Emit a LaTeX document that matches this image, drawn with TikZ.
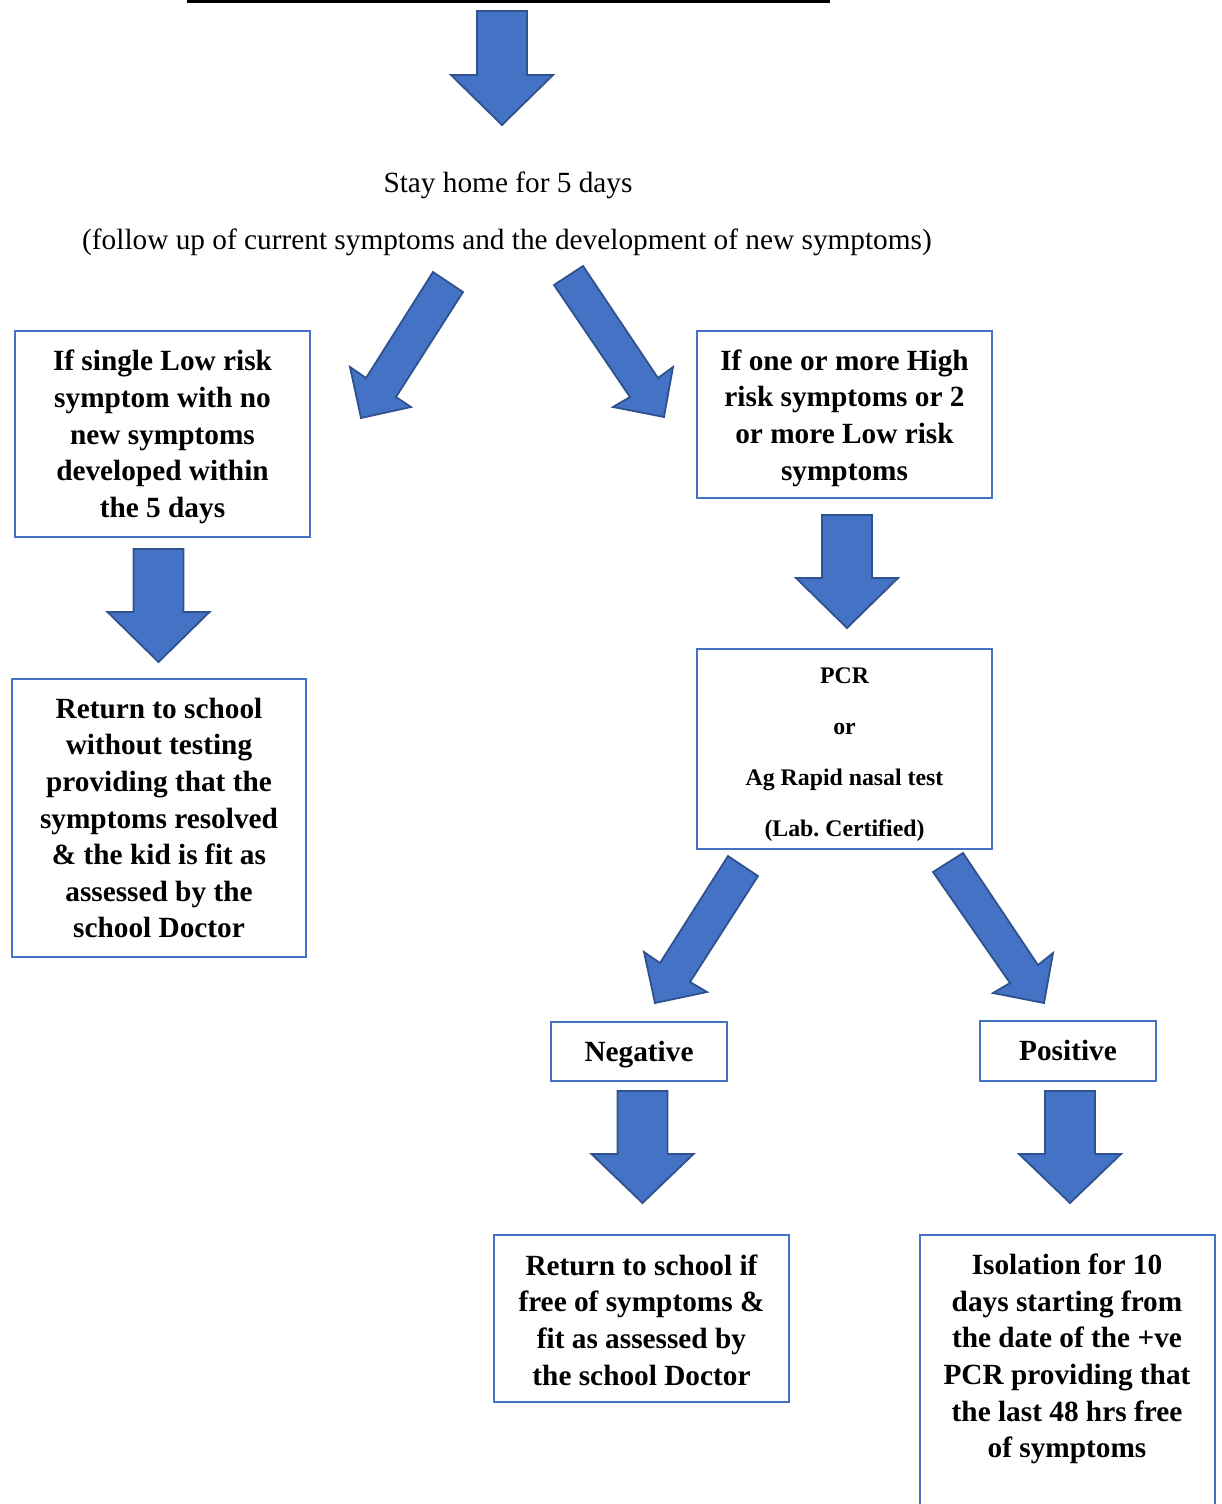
\documentclass[tikz,border=0pt]{standalone}
\usepackage{fontspec}
\setmainfont{Liberation Serif}
\frenchspacing
\definecolor{boxblue}{HTML}{4472C4}
\definecolor{arrowfill}{HTML}{4472C4}
\definecolor{arrowedge}{HTML}{2F528F}
\newcommand\bigbold{\fontsize{29.3}{36.6}\selectfont\bfseries}
\newcommand\bigreg{\fontsize{29.3}{36.6}\selectfont}
\newcommand\midbold{\fontsize{23.8}{51}\selectfont\bfseries}
\newcommand\downblock[4]{\draw[blockarrow] ({#1-25},#2) -- ({#1+25},#2) -- ({#1+25},#3) -- ({#1+51},#3) -- (#1,#4) -- ({#1-51},#3) -- ({#1-25},#3) -- cycle;}
\tikzset{
  blockarrow/.style={fill=arrowfill, draw=arrowedge, line width=1.8pt, line join=miter},
  flowbox/.style={draw=boxblue, line width=2.2pt, inner sep=0pt},
  boxtext/.style={inner sep=0pt, align=center, font=\bigbold},
  plaintext/.style={inner sep=0pt, font=\bigreg, align=center}
}
\begin{document}
\begin{tikzpicture}[x=1pt,y=-1pt]
\useasboundingbox (0,0) rectangle (1221,1504);
% top rule
\fill[black] (187,0) rectangle (830,3.5);
% top arrow
\downblock{502}{11}{75}{125}
% intro texts
\node[plaintext] (stay) at (508,185) {Stay home for 5 days};
\node[plaintext] (follow) at (507,242) {(follow up of current symptoms and the development of new symptoms)};
% diagonal arrows (top)
\draw[blockarrow] (433,272) -- (463,292) -- (396,397) -- (411,407) -- (361,418) -- (350,367) -- (366,378) -- cycle;
\draw[blockarrow] (583,266) -- (554,285) -- (630,397) -- (613,407) -- (664,417) -- (673,367) -- (658,378) -- cycle;
% boxes
\node[flowbox, minimum width=295pt, minimum height=206pt] (low) at (162.5,434) {};
\node[boxtext] (lowtext) at ([yshift=-3pt]low.center)
  {If single Low risk\\symptom with no\\new symptoms\\developed within\\the 5 days};
\node[flowbox, minimum width=295pt, minimum height=167pt] (high) at (844.5,414.5) {};
\node[boxtext] (hightext) at ([yshift=-3.5pt]high.center)
  {If one or more High\\risk symptoms or 2\\or more Low risk\\symptoms};
\downblock{158.5}{549}{612}{662}
\downblock{847}{515}{578}{628}
\node[flowbox, minimum width=294pt, minimum height=278pt] (ret) at (159,818) {};
\node[boxtext] (rettext) at (ret.center)
  {Return to school\\without testing\\providing that the\\symptoms resolved\\\& the kid is fit as\\assessed by the\\school Doctor};
\node[flowbox, minimum width=295pt, minimum height=200pt] (pcr) at (844.5,749) {};
\node[boxtext, font=\midbold] (pcrtext) at ([yshift=-6pt]pcr.center)
  {PCR\\or\\Ag Rapid nasal test\\(Lab. Certified)};
% diagonal arrows (lower)
\draw[blockarrow] (728,856) -- (758,876) -- (690,982) -- (707,992) -- (655,1003) -- (644,952) -- (660,963) -- cycle;
\draw[blockarrow] (963,853) -- (933,872) -- (1010,983) -- (993,993) -- (1044,1003) -- (1053,953) -- (1038,965) -- cycle;
\node[flowbox, minimum width=176pt, minimum height=59pt] (neg) at (639,1051.5) {};
\node[boxtext] (negtext) at ([yshift=-3pt]neg.center) {Negative};
\node[flowbox, minimum width=176pt, minimum height=60pt] (pos) at (1068,1051) {};
\node[boxtext] (postext) at ([yshift=0.5pt]pos.center) {Positive};
\downblock{642.5}{1091}{1154}{1203}
\downblock{1070}{1091}{1154}{1203}
\node[flowbox, minimum width=295pt, minimum height=167pt] (negres) at (641.5,1318.5) {};
\node[boxtext] (negrestext) at ([yshift=-1.5pt]negres.center)
  {Return to school if\\free of symptoms \&\\fit as assessed by\\the school Doctor};
\node[boxtext] (posres) at (1067,1359)
  {Isolation for 10\\days starting from\\the date of the +ve\\PCR providing that\\the last 48 hrs free\\of symptoms};
\draw[draw=boxblue, line width=2.2pt] (920,1510) -- (920,1235) -- (1215,1235) -- (1215,1510);
\end{tikzpicture}
\end{document}
